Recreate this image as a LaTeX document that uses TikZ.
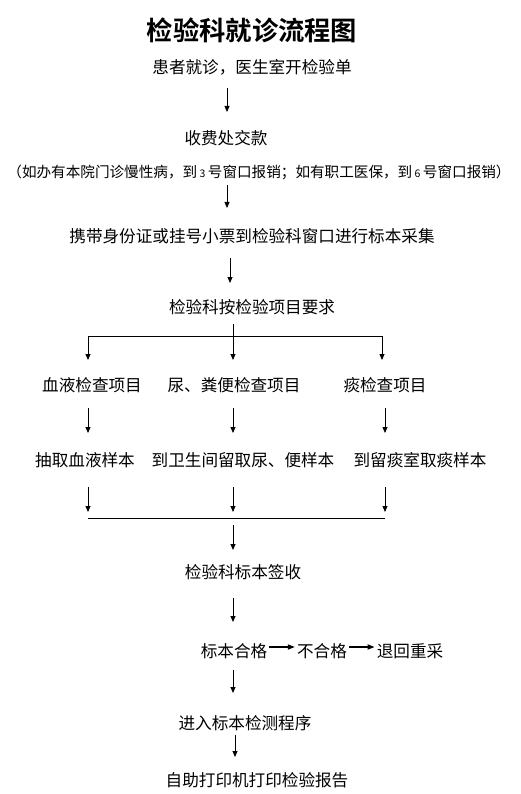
\documentclass[tikz,border=0pt]{standalone}
\usepackage{fontspec}
\setmainfont{Noto Sans CJK SC}
\newfontfamily\cjkbold{Noto Sans CJK SC Bold}
\usetikzlibrary{arrows.meta,calc}
\begin{document}
\begin{tikzpicture}[x=1pt,y=-1pt,
  lab/.style={inner sep=0pt,anchor=center,font=\fontsize{16.6}{17}\selectfont},
  arr/.style={-{Triangle[length=6pt,width=5pt]},line width=0.8pt},
  harr/.style={-{Triangle[length=7pt,width=5pt]},line width=1.5pt},
  ln/.style={line width=0.8pt}]
\useasboundingbox (0,0) rectangle (520,794);
\fill[white] (0,0) rectangle (520,794);
\node[inner sep=0pt,font=\cjkbold\fontsize{26.3}{28}\selectfont] (title) at (252,30) {检验科就诊流程图};
\node[lab] (n1) at (252,67) {患者就诊，医生室开检验单};
\node[lab] (n2) at (226,138) {收费处交款};
\node[lab,font=\fontsize{14.6}{15}\selectfont] (n2b) at (259,172) {（如办有本院门诊慢性病，到\,{\fontsize{10.5}{11}\selectfont 3}\,号窗口报销；如有职工医保，到\,{\fontsize{10.5}{11}\selectfont 6}\,号窗口报销）};
\node[lab] (n3) at (252,236) {携带身份证或挂号小票到检验科窗口进行标本采集};
\node[lab] (n4) at (252,307) {检验科按检验项目要求};
\node[lab] (b1) at (92,385) {血液检查项目};
\node[lab] (b2) at (234,385) {尿、粪便检查项目};
\node[lab] (b3) at (385,385) {痰检查项目};
\node[lab] (c1) at (85,460) {抽取血液样本};
\node[lab] (c2) at (243,460) {到卫生间留取尿、便样本};
\node[lab] (c3) at (420,460) {到留痰室取痰样本};
\node[lab] (n5) at (243,572) {检验科标本签收};
\node[lab] (q1) at (234,651) {标本合格};
\node[lab] (q2) at (322,651) {不合格};
\node[lab] (q3) at (410,651) {退回重采};
\node[lab] (n6) at (245,723) {进入标本检测程序};
\node[lab] (n7) at (257,780) {自助打印机打印检验报告};
% coordinates for connectors
\coordinate (a1s) at (227,88); \coordinate (a1e) at (227,112);
\coordinate (a2s) at (227,185); \coordinate (a2e) at (227,208);
\coordinate (a3s) at (230,258); \coordinate (a3e) at (230,283);
\coordinate (bL) at (88,336); \coordinate (bC) at (233,336); \coordinate (bR) at (382,336);
\coordinate (bCt) at (233,324);
\draw[arr] (a1s) -- (a1e);
\draw[arr] (a2s) -- (a2e);
\draw[arr] (a3s) -- (a3e);
\draw[ln] (bL) -- (bR);
\draw[ln] (bCt) -- (bC);
\draw[arr] (bL) -- (88,360);
\draw[arr] (bC) -- (233,360);
\draw[arr] (bR) -- (382,360);
\draw[arr] (88,408) -- (88,433);
\draw[arr] (233,408) -- (233,433);
\draw[arr] (385,408) -- (385,433);
\draw[arr] (88,487) -- (88,512);
\draw[arr] (233,487) -- (233,512);
\draw[arr] (385,487) -- (385,512);
\coordinate (mL) at (88,518); \coordinate (mR) at (385,518);
\draw[ln] (mL) -- (mR);
\draw[arr] (233,525) -- (233,550);
\draw[arr] (233,598) -- (233,622);
\draw[harr] ([xshift=2pt,yshift=4pt]q1.east) -- ([xshift=-2pt,yshift=4pt]q2.west);
\draw[harr] ([xshift=2pt,yshift=4pt]q2.east) -- ([xshift=-2pt,yshift=4pt]q3.west);
\draw[arr] (233,670) -- (233,693);
\draw[arr] (235,735) -- (235,757);
\end{tikzpicture}
\end{document}
